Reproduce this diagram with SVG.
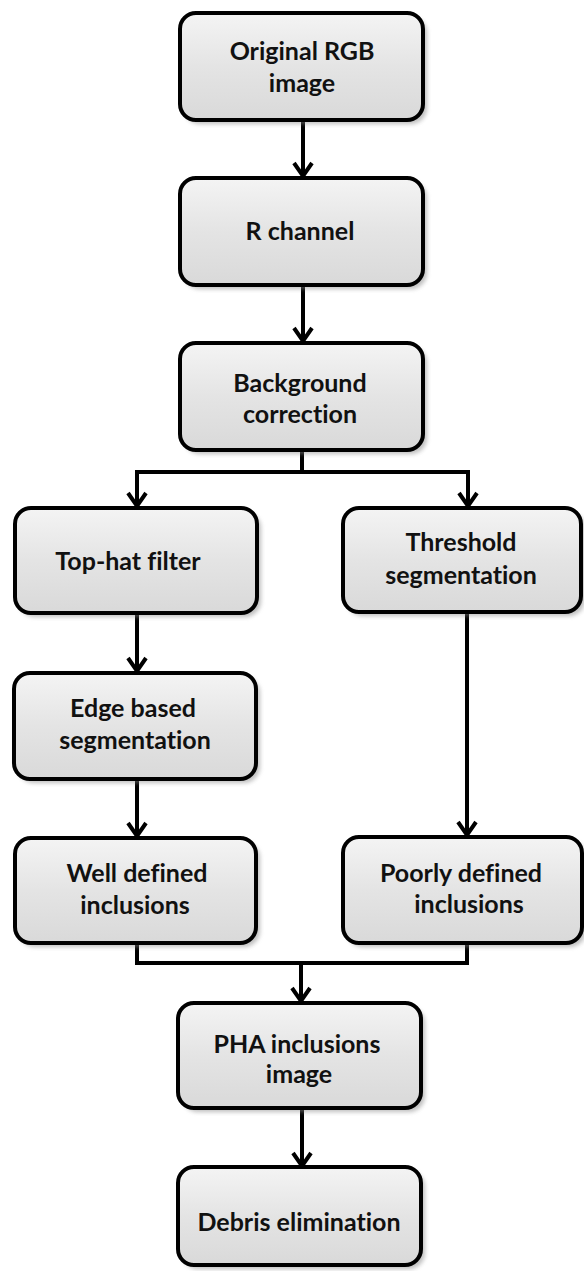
<svg xmlns="http://www.w3.org/2000/svg" width="584" height="1271" viewBox="0 0 584 1271">
<style>
.box{fill:url(#g);stroke:#000;stroke-width:4}
.sh{fill:#8a8a8a;opacity:0.55}
.t{font-family:Lato,"Open Sans","Liberation Sans",sans-serif;font-weight:bold;font-size:25px;fill:#111;text-anchor:middle;font-variant-ligatures:none}
.c{fill:none;stroke:#000;stroke-width:4}
</style>
<defs>
<linearGradient id="g" x1="0" y1="0" x2="0" y2="1">
<stop offset="0" stop-color="#f4f4f4"/>
<stop offset="0.5" stop-color="#e4e4e4"/>
<stop offset="1" stop-color="#d9d9d9"/>
</linearGradient>
<filter id="blur" x="-10%" y="-10%" width="120%" height="120%"><feGaussianBlur stdDeviation="2"/></filter>
<marker id="arr" viewBox="-16 -12 18 24" refX="0" refY="0" markerWidth="18" markerHeight="24" markerUnits="userSpaceOnUse" orient="auto">
<path d="M-13,-9 L0,0 L-13,9" fill="none" stroke="#000" stroke-width="4"/>
</marker>
</defs>
<g id="connectors">
<path class="c" d="M303,120 V176" marker-end="url(#arr)"/>
<path class="c" d="M303,285 V341" marker-end="url(#arr)"/>
<path class="c" d="M302,450 V472"/>
<path class="c" d="M135,472 H470"/>
<path class="c" d="M137,472 V506" marker-end="url(#arr)"/>
<path class="c" d="M468,472 V506" marker-end="url(#arr)"/>
<path class="c" d="M137,613 V671" marker-end="url(#arr)"/>
<path class="c" d="M137,779 V836" marker-end="url(#arr)"/>
<path class="c" d="M467,612 V835" marker-end="url(#arr)"/>
<path class="c" d="M137,943 V963 H467 V943"/>
<path class="c" d="M301,963 V1001" marker-end="url(#arr)"/>
<path class="c" d="M302,1108 V1166" marker-end="url(#arr)"/>
</g>
<g id="n1">
<rect class="sh" x="184" y="17" width="243" height="107" rx="16" filter="url(#blur)"/>
<rect class="box" x="180" y="13" width="243" height="107" rx="16"/>
<text class="t" x="302" y="60">Original RGB</text>
<text class="t" x="302" y="92">image</text>
</g>
<g id="n2">
<rect class="sh" x="184" y="182" width="243" height="107" rx="16" filter="url(#blur)"/>
<rect class="box" x="180" y="178" width="243" height="107" rx="16"/>
<text class="t" x="300" y="240">R channel</text>
</g>
<g id="n3">
<rect class="sh" x="184" y="347" width="243" height="107" rx="16" filter="url(#blur)"/>
<rect class="box" x="180" y="343" width="243" height="107" rx="16"/>
<text class="t" x="300" y="392">Background</text>
<text class="t" x="300" y="423">correction</text>
</g>
<g id="n4">
<rect class="sh" x="19" y="512" width="242" height="105" rx="16" filter="url(#blur)"/>
<rect class="box" x="15" y="508" width="242" height="105" rx="16"/>
<text class="t" x="128" y="570">Top-hat filter</text>
</g>
<g id="n5">
<rect class="sh" x="347" y="512" width="238" height="104" rx="16" filter="url(#blur)"/>
<rect class="box" x="343" y="508" width="238" height="104" rx="16"/>
<text class="t" x="461" y="551">Threshold</text>
<text class="t" x="461" y="584">segmentation</text>
</g>
<g id="n6">
<rect class="sh" x="18" y="677" width="242" height="106" rx="16" filter="url(#blur)"/>
<rect class="box" x="14" y="673" width="242" height="106" rx="16"/>
<text class="t" x="133" y="717">Edge based</text>
<text class="t" x="135" y="749">segmentation</text>
</g>
<g id="n7">
<rect class="sh" x="19" y="842" width="241" height="105" rx="16" filter="url(#blur)"/>
<rect class="box" x="15" y="838" width="241" height="105" rx="16"/>
<text class="t" x="137" y="882">Well defined</text>
<text class="t" x="135" y="914">inclusions</text>
</g>
<g id="n8">
<rect class="sh" x="347" y="841" width="239" height="106" rx="16" filter="url(#blur)"/>
<rect class="box" x="343" y="837" width="239" height="106" rx="16"/>
<text class="t" x="461" y="882">Poorly defined</text>
<text class="t" x="469" y="913">inclusions</text>
</g>
<g id="n9">
<rect class="sh" x="182" y="1007" width="243" height="105" rx="16" filter="url(#blur)"/>
<rect class="box" x="178" y="1003" width="243" height="105" rx="16"/>
<text class="t" x="297" y="1053">PHA inclusions</text>
<text class="t" x="299" y="1083">image</text>
</g>
<g id="n10">
<rect class="sh" x="182" y="1171" width="243" height="98" rx="16" filter="url(#blur)"/>
<rect class="box" x="178" y="1167" width="243" height="98" rx="16"/>
<text class="t" x="299" y="1231">Debris elimination</text>
</g>
</svg>
